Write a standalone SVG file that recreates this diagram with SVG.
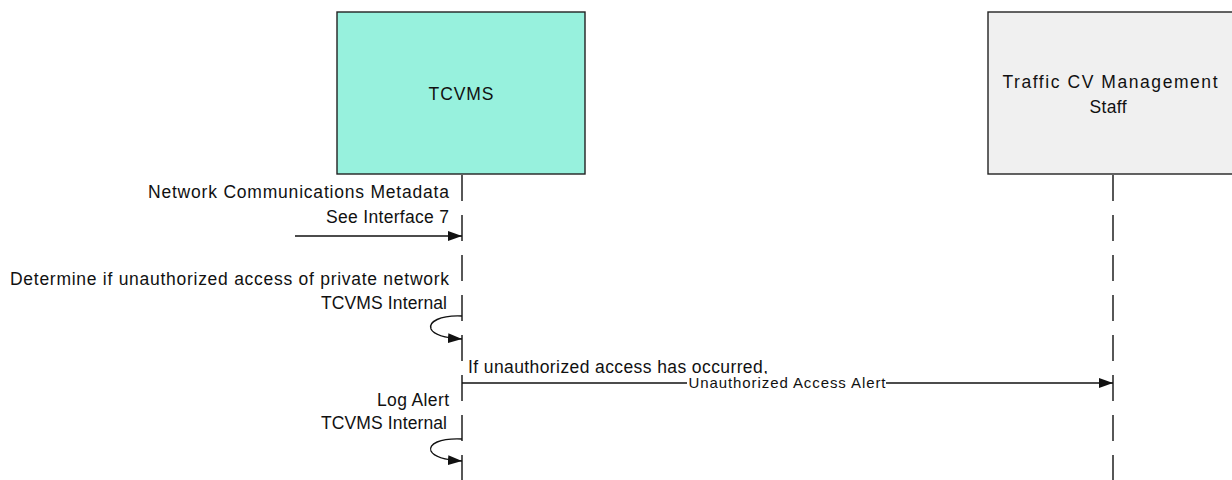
<svg xmlns="http://www.w3.org/2000/svg" width="1232" height="480" viewBox="0 0 1232 480">
  <style>
    .box { stroke: #222; stroke-width: 1.4; }
    .lbl { font-family: "Liberation Sans", Arial, sans-serif; font-size: 17.5px; fill: #111; }
    .small { font-family: "Liberation Sans", Arial, sans-serif; font-size: 15px; fill: #111; }
    .life { stroke: #111; stroke-width: 1.4; fill: none; stroke-dasharray: 26 14; }
    .msg { stroke: #111; stroke-width: 1.4; fill: none; }
  </style>
  <defs>
    <marker id="arrow" viewBox="0 0 14 10" refX="14" refY="5" markerWidth="14" markerHeight="10" markerUnits="userSpaceOnUse" orient="auto">
      <path d="M0,0 L14,5 L0,10 Z" fill="#111"/>
    </marker>
  </defs>

  <rect width="1232" height="480" fill="#fff"/>

  <!-- Participants -->
  <g id="tcvms">
    <rect class="box" x="337" y="12" width="248" height="162" fill="#97F1DD"/>
    <text class="lbl" x="461" y="100" text-anchor="middle" textLength="65" lengthAdjust="spacing">TCVMS</text>
  </g>
  <g id="staff">
    <rect class="box" x="988" y="12" width="250" height="162" fill="#F0F0F0"/>
    <text class="lbl" x="1110" y="88" text-anchor="middle" textLength="215" lengthAdjust="spacing">Traffic CV Management</text>
    <text class="lbl" x="1108" y="113" text-anchor="middle" textLength="37" lengthAdjust="spacing">Staff</text>
  </g>

  <!-- Lifelines and messages -->
  <g id="connectors">
    <line class="life" x1="462" y1="175" x2="462" y2="480"/>
    <line class="life" x1="1113" y1="175" x2="1113" y2="480"/>

    <!-- Incoming metadata -->
    <line class="msg" x1="295" y1="236" x2="462" y2="236" marker-end="url(#arrow)"/>
    <text class="lbl" x="449" y="198" text-anchor="end" textLength="301" lengthAdjust="spacing">Network Communications Metadata</text>
    <text class="lbl" x="449" y="223" text-anchor="end" textLength="123" lengthAdjust="spacing">See Interface 7</text>

    <!-- Internal check -->
    <path class="msg" d="M462,316 C440,315 428,322 431,329 C434,335 446,338 462,339" marker-end="url(#arrow)"/>
    <text class="lbl" x="449" y="285" text-anchor="end" textLength="439" lengthAdjust="spacing">Determine if unauthorized access of private network</text>
    <text class="lbl" x="447" y="309" text-anchor="end" textLength="126" lengthAdjust="spacing">TCVMS Internal</text>

    <!-- Alert to staff -->
    <line class="msg" x1="462" y1="383" x2="1113" y2="383" marker-end="url(#arrow)"/>
    <text class="lbl" x="468" y="373" textLength="300" lengthAdjust="spacing">If unauthorized access has occurred,</text>
    <rect x="687" y="374" width="199" height="16" fill="#fff"/>
    <text class="small" x="787" y="388" text-anchor="middle" textLength="197" lengthAdjust="spacing">Unauthorized Access Alert</text>

    <!-- Log alert -->
    <path class="msg" d="M462,439 C440,438 428,444 431,451 C434,457 446,460 462,461" marker-end="url(#arrow)"/>
    <text class="lbl" x="449" y="406" text-anchor="end" textLength="72" lengthAdjust="spacing">Log Alert</text>
    <text class="lbl" x="447" y="429" text-anchor="end" textLength="126" lengthAdjust="spacing">TCVMS Internal</text>
  </g>
</svg>
